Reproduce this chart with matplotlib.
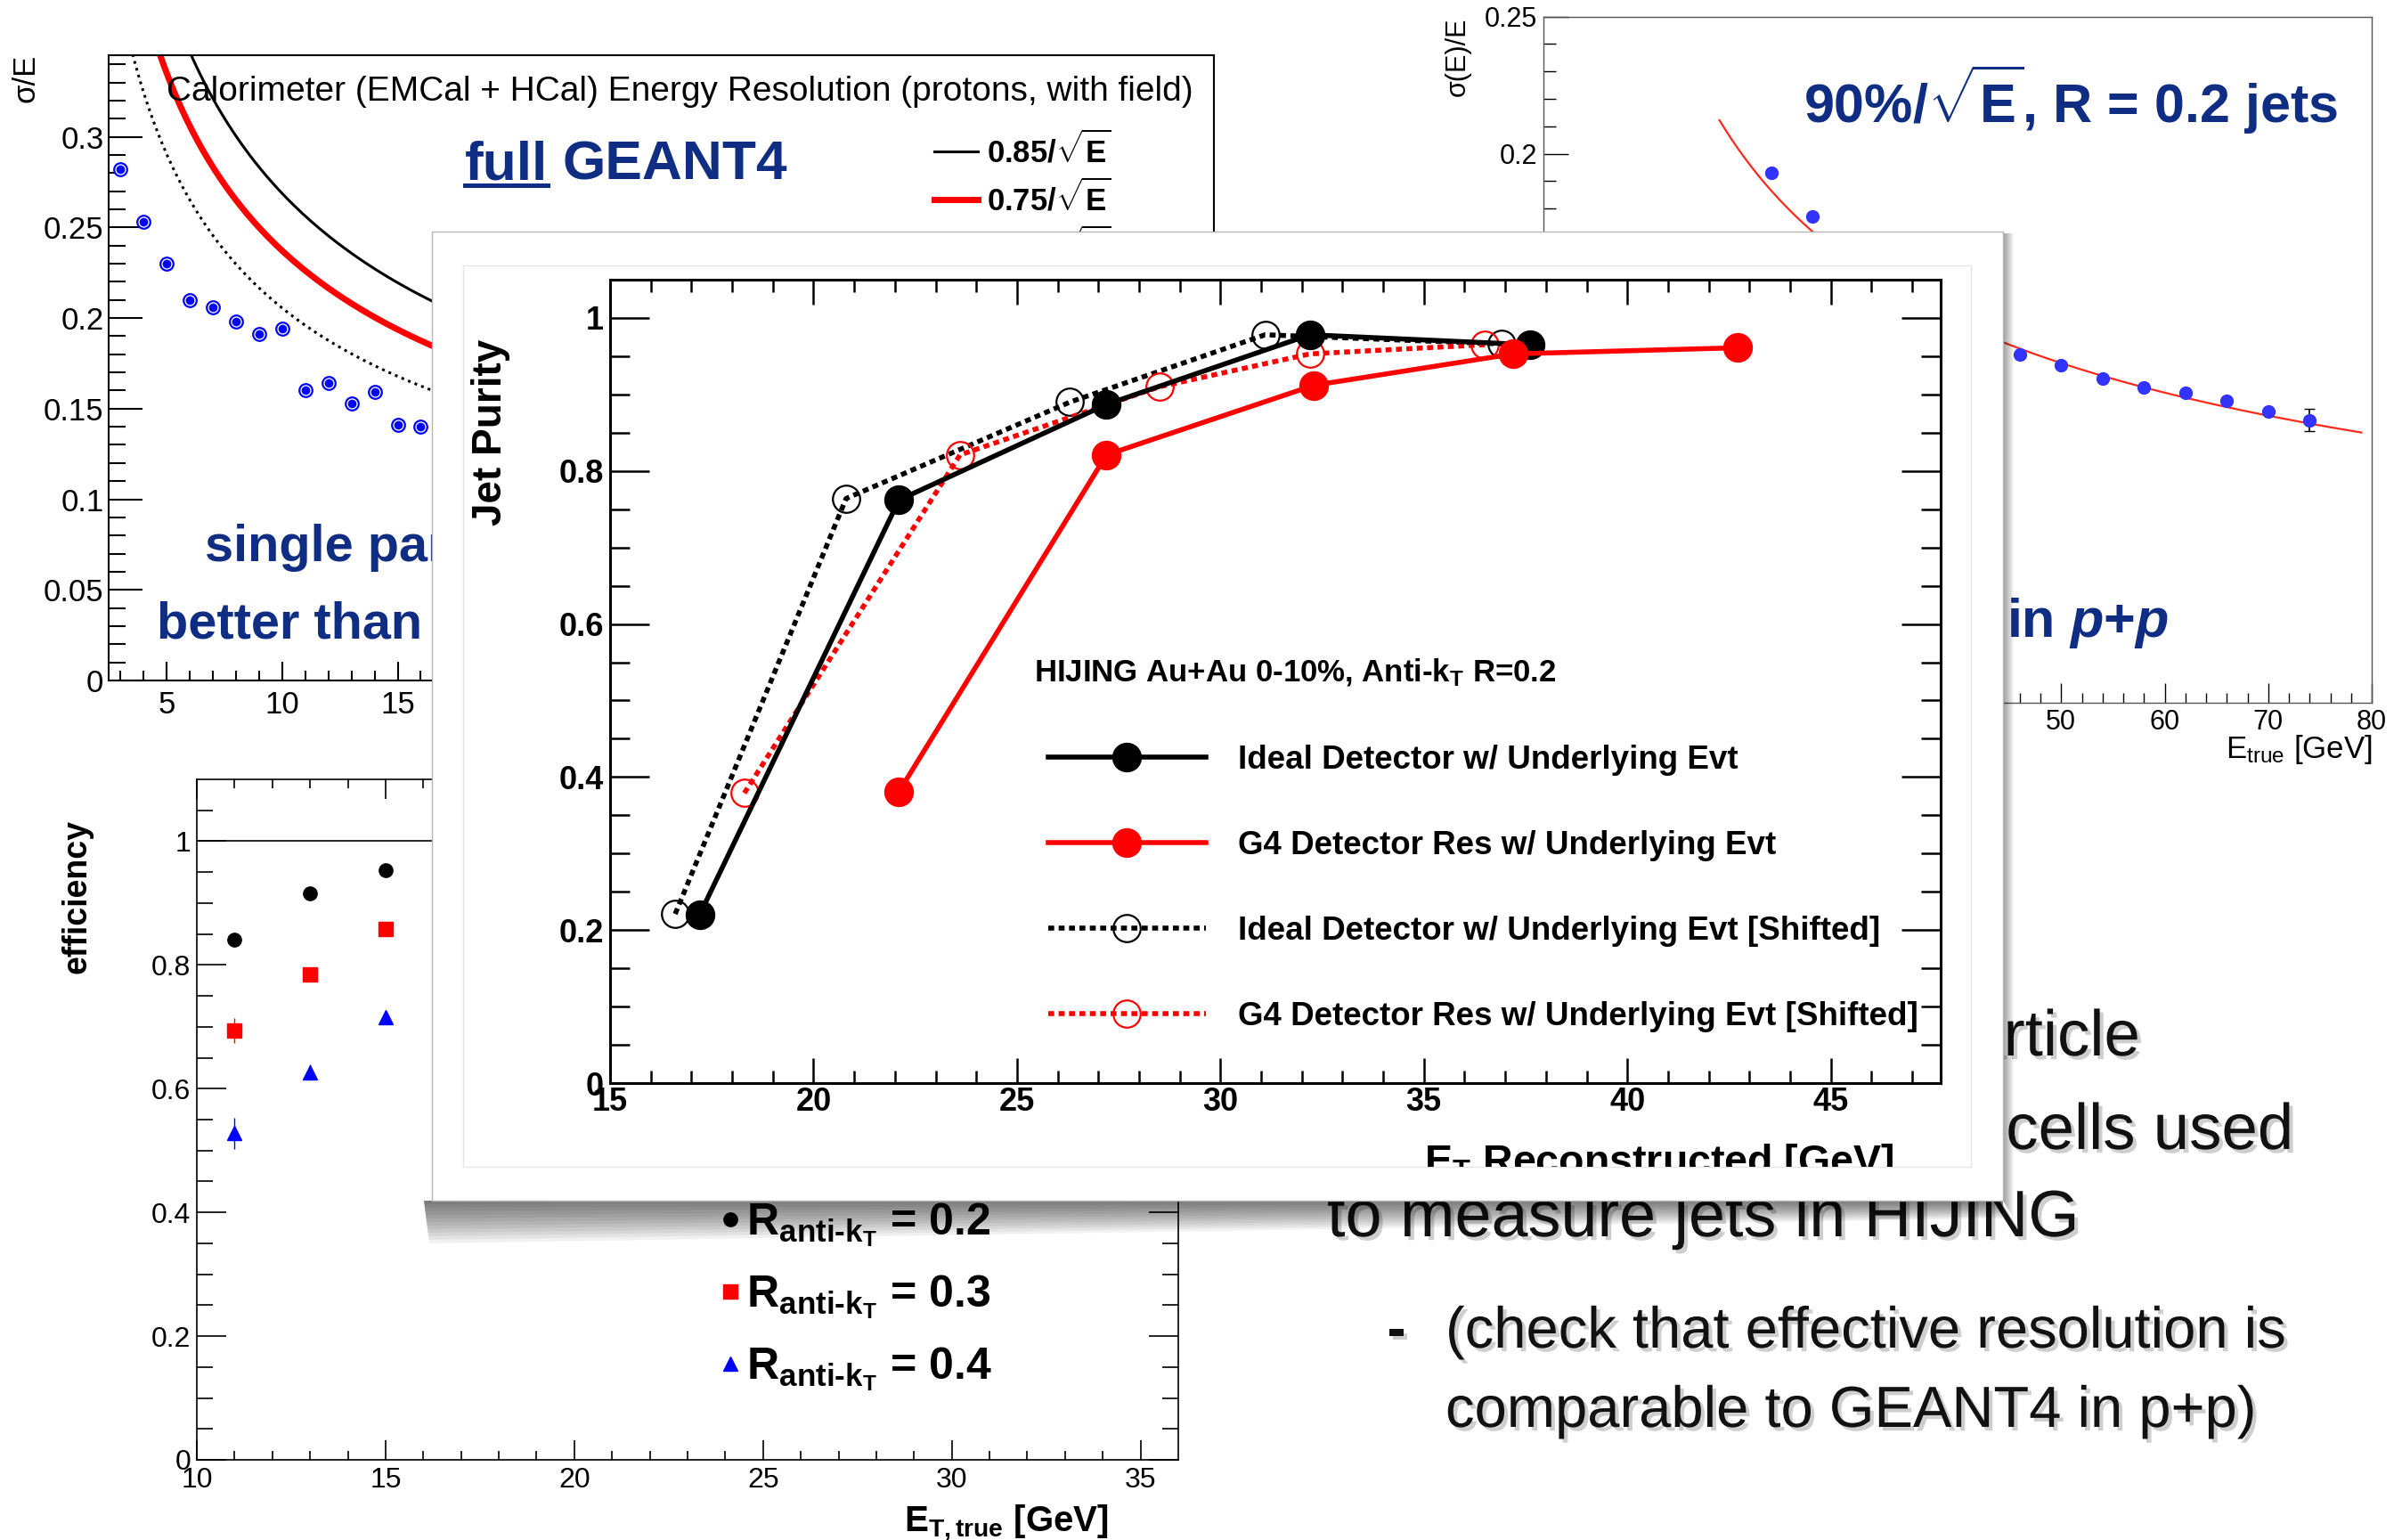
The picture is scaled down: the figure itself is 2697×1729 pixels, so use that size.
import numpy as np
import matplotlib
matplotlib.use('Agg')
import matplotlib.pyplot as plt
import matplotlib.transforms as mtransforms
import matplotlib.patches as mpatches
import matplotlib.patheffects as pe
from matplotlib.lines import Line2D
from matplotlib import font_manager

# ---- data ----
# top left: single particle resolution, full GEANT4 (protons, with field)
tl_energy = [3, 4, 5, 6, 7, 8, 9, 10, 11, 12, 13, 14, 15, 16]
tl_resolution = [0.282, 0.253, 0.230, 0.210, 0.206, 0.198, 0.191, 0.194,
                 0.160, 0.164, 0.153, 0.159, 0.141, 0.140]
tl_coefs = [0.85, 0.75, 0.65]          # a/sqrt(E) reference curves
tl_labels = [r'0.85/$\sqrt{E}$', r'0.75/$\sqrt{E}$', r'0.65/$\sqrt{E}$']

# top right: R = 0.2 jets in p+p
tr_energy = [22, 26, 46, 50, 54, 58, 62, 66, 70, 74]
tr_resolution = [0.193, 0.177, 0.127, 0.123, 0.118, 0.115, 0.113, 0.110, 0.106, 0.103]
tr_error = [0, 0, 0, 0, 0, 0, 0, 0, 0, 0.004]
tr_fit_coef = 0.875
tr_fit_range = (17, 79)

# bottom left: jet efficiency
bl_energy = [11, 13, 15]
bl_eff_r02 = [0.841, 0.915, 0.953]
bl_eff_r03 = [0.694, 0.785, 0.858]
bl_eff_r04 = [0.528, 0.627, 0.715]
bl_err_r02 = [0.005, 0.004, 0.003]
bl_err_r03 = [0.02, 0.01, 0.007]
bl_err_r04 = [0.025, 0.012, 0.01]
bl_labels = ['R$_{anti\u2010k_{T}}$ = 0.2', 'R$_{anti\u2010k_{T}}$ = 0.3',
             'R$_{anti\u2010k_{T}}$ = 0.4']

# centre: jet purity in HIJING
ideal_et = [17.2, 22.1, 27.2, 32.2, 37.6]
ideal_purity = [0.220, 0.762, 0.887, 0.978, 0.965]
g4_et = [22.1, 27.2, 32.3, 37.2, 42.7]
g4_purity = [0.381, 0.821, 0.912, 0.953, 0.961]
ideal_shift_et = [16.6, 20.8, 26.3, 31.1, 36.9]
ideal_shift_purity = [0.221, 0.764, 0.890, 0.978, 0.966]
g4_shift_et = [18.3, 23.6, 28.5, 32.2, 36.5]
g4_shift_purity = [0.379, 0.821, 0.910, 0.953, 0.965]
purity_labels = ['Ideal Detector w/ Underlying Evt',
                 'G4 Detector Res w/ Underlying Evt',
                 'Ideal Detector w/ Underlying Evt [Shifted]',
                 'G4 Detector Res w/ Underlying Evt [Shifted]']

# ---- fonts ----
available = {f.name for f in font_manager.fontManager.ttflist}
if 'Liberation Sans Narrow' in available:
    NARROW, SQ = 'Liberation Sans Narrow', 1.0
else:
    NARROW, SQ = 'Liberation Sans', 0.83

plt.rcParams['font.family'] = ['Liberation Sans', 'DejaVu Sans']
plt.rcParams['mathtext.fontset'] = 'custom'
plt.rcParams['mathtext.rm'] = 'Liberation Sans'
plt.rcParams['mathtext.bf'] = 'Liberation Sans:bold'
plt.rcParams['mathtext.it'] = NARROW + ':italic:bold'
plt.rcParams['mathtext.default'] = 'regular'

navy = '#0f2d82'

# whole slide in pixels, y going down
W, H = 2697, 1729
fig = plt.figure(figsize=(W / 100, H / 100), dpi=100)
pix = mtransforms.Affine2D().scale(1 / W, -1 / H).translate(0, 1) + fig.transFigure


def box(x0, y0, x1, y1):
    return [x0 / W, 1 - y1 / H, (x1 - x0) / W, (y1 - y0) / H]


def set_ticks(ax, xmaj, xmin, ymaj, ymin, size, weight='normal'):
    ax.set_xticks(xmaj, [f'{v:g}' for v in xmaj], fontsize=size, fontweight=weight)
    ax.set_xticks(xmin, minor=True)
    ax.set_yticks(ymaj, [f'{v:g}' for v in ymaj], fontsize=size, fontweight=weight)
    ax.set_yticks(ymin, minor=True)


def navy_text(ax, x, y, s, size, **kw):
    return ax.text(x, y, s, transform=pix, fontsize=size * SQ, fontfamily=NARROW,
                   fontweight='bold', color=navy, va='baseline', clip_on=False, **kw)


back = fig.add_axes([0, 0, 1, 1], zorder=0)
back.axis('off')

# ---------------- top left ----------------
ax_tl = fig.add_axes(box(122, 62, 1363, 764), zorder=1)
e = np.linspace(2.5, 50.3, 400)
l85, = ax_tl.plot(e, tl_coefs[0] / np.sqrt(e), color='black', lw=2.2)
l75, = ax_tl.plot(e, tl_coefs[1] / np.sqrt(e), color='red', lw=5)
l65, = ax_tl.plot(e, tl_coefs[2] / np.sqrt(e), color='black', lw=2.2, ls=(0, (1, 1.6)))
ax_tl.plot(tl_energy, tl_resolution, 'o', ms=10.5, mfc='white', mec='#0000ff', mew=1.6)
ax_tl.plot(tl_energy, tl_resolution, 'o', ms=7, mfc='#0000ff', mec='none')
ax_tl.set_xlim(2.5, 50.3)
ax_tl.set_ylim(0, 0.345)
set_ticks(ax_tl, np.arange(5, 51, 5), np.arange(3, 51, 1),
          np.arange(0, 0.31, 0.05), np.arange(0, 0.345, 0.01), 25)
ax_tl.tick_params(axis='y', which='major', direction='in', length=27, width=1.5, pad=4)
ax_tl.tick_params(axis='y', which='minor', direction='in', length=14, width=1.5)
ax_tl.tick_params(axis='x', which='major', direction='in', length=15, width=1.5, pad=8)
ax_tl.tick_params(axis='x', which='minor', direction='in', length=8, width=1.5)
for s in ax_tl.spines.values():
    s.set_linewidth(1.5)
ax_tl.text(187, 113, 'Calorimeter (EMCal + HCal) Energy Resolution (protons, with field)',
           transform=pix, fontsize=28, va='baseline', clip_on=False)
ax_tl.text(29, 61, 'σ/E', transform=pix, fontsize=25, rotation=90, ha='center', va='top')
ax_tl.legend([l85, l75, l65], tl_labels, loc='upper left',
             bbox_to_anchor=(1049 / W, 1 - 147 / H), bbox_transform=fig.transFigure,
             frameon=False, prop={'weight': 'bold', 'size': 25}, handlelength=1.4,
             handletextpad=0.3, labelspacing=0.35, borderpad=0, borderaxespad=0)
t_full = navy_text(ax_tl, 522, 201.5, 'full', 54)
navy_text(ax_tl, 176, 717, 'better than', 50)
navy_text(ax_tl, 230, 630, 'single part', 50)

# ---------------- top right ----------------
ax_tr = fig.add_axes(box(1733, 18.5, 2663, 789), zorder=1)
ef = np.linspace(tr_fit_range[0], tr_fit_range[1], 300)
ax_tr.plot(ef, tr_fit_coef / np.sqrt(ef), color='#ff2a1a', lw=1.6)
ax_tr.errorbar(tr_energy, tr_resolution, yerr=tr_error, fmt='o', ms=10, color='#3333ff',
               ecolor='black', elinewidth=1.2, capsize=4)
ax_tr.set_xlim(0, 80)
ax_tr.set_ylim(0, 0.25)
set_ticks(ax_tr, np.arange(0, 81, 10), np.arange(0, 81, 2),
          np.arange(0, 0.26, 0.05), np.arange(0, 0.251, 0.01), 22)
ax_tr.tick_params(axis='y', which='major', direction='in', length=20, width=1, pad=5)
ax_tr.tick_params(axis='y', which='minor', direction='in', length=10, width=1)
ax_tr.tick_params(axis='x', which='major', direction='in', length=16, width=1, pad=5)
ax_tr.tick_params(axis='x', which='minor', direction='in', length=8, width=1)
for s in ax_tr.spines.values():
    s.set_linewidth(1)
    s.set_color('#555555')
ax_tr.text(1637, 20, 'σ(E)/E', transform=pix, fontsize=22, rotation=90, ha='center', va='top')
ax_tr.text(2663, 851, r'E$_{true}$ [GeV]', transform=pix, fontsize=25, ha='right', va='baseline')
navy_text(ax_tr, 2025, 137.6, r'90%/$\sqrt{E}$, R = 0.2 jets', 53)
navy_text(ax_tr, 2253, 715, r'in $\mathit{p}$+$\mathit{p}$', 53)

# ---------------- bottom left ----------------
ax_bl = fig.add_axes(box(221, 875, 1323, 1639), zorder=1)
ax_bl.axhline(1, color='black', lw=1.2)
c02 = ax_bl.errorbar(bl_energy, bl_eff_r02, yerr=bl_err_r02, fmt='o', ms=11, color='black', elinewidth=1)
c03 = ax_bl.errorbar(bl_energy, bl_eff_r03, yerr=bl_err_r03, fmt='s', ms=11, color='red', elinewidth=1)
c04 = ax_bl.errorbar(bl_energy, bl_eff_r04, yerr=bl_err_r04, fmt='^', ms=11, color='blue', elinewidth=1)
ax_bl.set_xlim(10, 36)
ax_bl.set_ylim(0, 1.1)
set_ticks(ax_bl, np.arange(10, 36, 5), np.arange(10, 36, 1),
          np.arange(0, 1.01, 0.2), np.arange(0, 1.1, 0.05), 23)
ax_bl.tick_params(which='both', direction='in', top=True, right=True, width=1.2)
ax_bl.tick_params(axis='y', which='major', length=24, pad=5)
ax_bl.tick_params(axis='y', which='minor', length=13)
ax_bl.tick_params(axis='x', which='major', length=16, pad=6)
ax_bl.tick_params(axis='x', which='minor', length=7)
for s in ax_bl.spines.values():
    s.set_linewidth(1.2)
ax_bl.text(87, 920, 'efficiency', transform=pix, fontsize=27, fontweight='bold',
           rotation=90, ha='center', va='top')
ax_bl.text(1245, 1719, r'E$_{T,true}$ [GeV]', transform=pix, fontsize=29, fontweight='bold',
           ha='right', va='baseline')
ax_bl.legend([c02[0], c03[0], c04[0]], bl_labels, loc='upper left',
             bbox_to_anchor=(810 / W, 1 - 1348 / H), bbox_transform=fig.transFigure,
             frameon=False, prop={'weight': 'bold', 'size': 36}, handlelength=0.4,
             handletextpad=0.15, labelspacing=0.55, borderpad=0, borderaxespad=0,
             numpoints=1)

# ---------------- slide text, bottom right ----------------
shadow = [pe.SimplePatchShadow(offset=(3, -3), shadow_rgbFace='0.45', alpha=0.35), pe.Normal()]
slide_kw = dict(transform=pix, fontfamily=NARROW, color='#111111', va='baseline', path_effects=shadow)
back.text(2403, 1185, 'particle', ha='right', fontsize=63 * SQ, **slide_kw)
back.text(2575, 1290, 'the cells used', ha='right', fontsize=63 * SQ, **slide_kw)
back.text(1490, 1388, 'to measure jets in HIJING', ha='left', fontsize=64 * SQ, **slide_kw)
back.text(1557, 1513, '-', ha='left', fontsize=56 * SQ, fontweight='bold', **slide_kw)
back.text(1623, 1513, '(check that effective resolution is', ha='left', fontsize=56.5 * SQ, **slide_kw)
back.text(1623, 1602, 'comparable to GEANT4 in p+p)', ha='left', fontsize=56.5 * SQ, **slide_kw)

# ---------------- overlay panel with shadow ----------------
panel = fig.add_axes([0, 0, 1, 1], zorder=5)
panel.axis('off')
n = 12
for i in range(n):
    f = (i + 1) / n
    panel.add_patch(mpatches.Polygon([(476, 1348), (2249, 1348), (2249, 1348 + 20 * f),
                                      (476 + 6 * f, 1348 + 48 * f)],
                                     closed=True, transform=pix, facecolor='black',
                                     edgecolor='none', alpha=0.055))
    panel.add_patch(mpatches.Polygon([(2249, 262), (2249 + 12 * f, 262),
                                      (2249 + 12 * f, 1348 + 20 * f), (2249, 1348)],
                                     closed=True, transform=pix, facecolor='black',
                                     edgecolor='none', alpha=0.035))
panel.add_patch(mpatches.Rectangle((485, 260), 2249 - 485, 1348 - 260, transform=pix,
                                   facecolor='white', edgecolor='#b5b5b5', lw=1))

ax_in = fig.add_axes(box(520, 298, 2213, 1310), zorder=5.5)
ax_in.set_xticks([])
ax_in.set_yticks([])
for s in ax_in.spines.values():
    s.set_color('#e6e6e6')
    s.set_linewidth(1)
ax_in.text(2126, 1318, r'E$_{T}$ Reconstructed [GeV]', transform=pix, fontsize=33.5,
           fontweight='bold', ha='right', va='baseline', clip_on=True)

# ---------------- centre: jet purity ----------------
ax_c = fig.add_axes(box(685, 314, 2179, 1216), zorder=6)
ax_c.patch.set_alpha(0)
dots = (0, (1.2, 0.9))
h_is, = ax_c.plot(ideal_shift_et, ideal_shift_purity, color='black', lw=4, ls=dots,
                  marker='o', ms=22, mfc='none', mec='black', mew=1.6)
h_gs, = ax_c.plot(g4_shift_et, g4_shift_purity, color='red', lw=4, ls=dots,
                  marker='o', ms=22, mfc='none', mec='red', mew=1.6)
h_i, = ax_c.plot(ideal_et, ideal_purity, color='black', lw=4, marker='o', ms=23)
h_g, = ax_c.plot(g4_et, g4_purity, color='red', lw=4, marker='o', ms=23)
ax_c.set_xlim(15, 47.7)
ax_c.set_ylim(0, 1.05)
set_ticks(ax_c, np.arange(15, 46, 5), np.arange(15, 48, 1),
          np.arange(0, 1.01, 0.2), np.arange(0, 1.05, 0.05), 26, weight='bold')
ax_c.tick_params(which='both', direction='in', top=True, right=True, width=1.8)
ax_c.tick_params(axis='y', which='major', length=32, pad=5)
ax_c.tick_params(axis='y', which='minor', length=16)
ax_c.tick_params(axis='x', which='major', length=20, pad=3)
ax_c.tick_params(axis='x', which='minor', length=10)
for s in ax_c.spines.values():
    s.set_linewidth(2.2)
ax_c.text(551, 381, 'Jet Purity', transform=pix, fontsize=33, fontweight='bold',
          rotation=90, ha='center', va='top')
ax_c.text(1161, 765, r'HIJING Au+Au 0-10%, Anti-k$_{T}$ R=0.2', transform=pix,
          fontsize=25, fontweight='bold', va='baseline')
ax_c.legend([h_i, h_g, h_is, h_gs], purity_labels, loc='upper left',
            bbox_to_anchor=(1177 / W, 1 - 836 / H), bbox_transform=fig.transFigure,
            frameon=False, prop={'weight': 'bold', 'size': 26.5}, handlelength=4.8,
            handletextpad=1.0, labelspacing=1.66, borderpad=0, borderaxespad=0,
            numpoints=1)

# underline under "full" and the rest of the navy title
fig.canvas.draw()
bb = t_full.get_window_extent()
ax_tl.add_line(Line2D([bb.x0, bb.x1], [208, 208], transform=pix, color=navy, lw=3.6,
                      clip_on=False))
navy_text(ax_tl, bb.x1 + 16, 201.5, 'GEANT4', 54)

fig.savefig('out.png', dpi=100, facecolor='white')
